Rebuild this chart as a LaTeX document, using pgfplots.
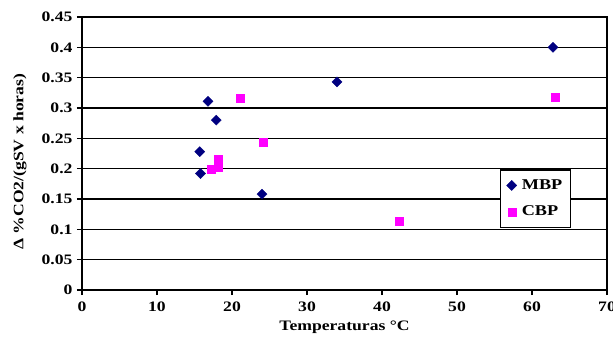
\documentclass[border=0pt]{standalone}
\usepackage{fontspec}
\setmainfont{Liberation Serif}[FakeStretch=1.22]
\usepackage{pgfplots}
\pgfplotsset{compat=1.18}
\definecolor{navyc}{RGB}{0,0,128}
\definecolor{magc}{RGB}{255,0,255}
\begin{document}
\begin{tikzpicture}[x=1bp,y=1bp]
\begin{axis}[
  at={(82bp,60bp)}, anchor=south west,
  scale only axis, width=525bp, height=273bp,
  xmin=0, xmax=70, ymin=0, ymax=0.45,
  xtick={0,10,...,70},
  ytick={0,0.05,0.1,0.15,0.2,0.25,0.3,0.35,0.4,0.45},
  xtick pos=bottom, ytick pos=left,
  /pgf/number format/assume math mode=true,
  /pgf/number format/fixed,
  /pgf/number format/precision=2,
  tick label style={font=\bfseries\fontsize{14.5}{16}\selectfont},
  label style={font=\bfseries\fontsize{14.5}{16}\selectfont},
  xlabel={Temperaturas °C},
  ylabel={Δ \%CO2/(gSV x horas)},
  xlabel style={at={(axis description cs:0.5,0)}, anchor=north, yshift=-27bp},
  ylabel style={at={(axis description cs:0,0.47)}, anchor=south, yshift=52bp},
  tick align=outside,
  major tick length=5bp,
  tick style={black, line width=1.2bp},
  axis line style={line width=1.8bp},
  ymajorgrids,
  grid style={black, line width=1.1bp},
  xticklabel style={yshift=-3bp},
  yticklabel style={xshift=-1bp},
  legend style={at={(0.796,0.443)}, anchor=north west,
    draw=black, line width=1.5bp, fill=white,
    font=\bfseries\fontsize{15}{16}\selectfont,
    inner xsep=6bp, inner ysep=8bp, row sep=11bp, column sep=3bp},
  legend cell align=left,
]
\addplot[only marks, mark=square*, mark size=3.6bp, color=navyc, mark options={rotate=45, line width=0.3bp}]
  coordinates {(62.8,0.400) (34.0,0.343) (16.8,0.311) (17.9,0.280) (15.7,0.228) (15.8,0.192) (24.0,0.158)};
\addlegendentry{MBP}
\addplot[only marks, mark=square*, mark size=4bp, color=magc, mark options={line width=0.3bp}]
  coordinates {(21.1,0.316) (24.2,0.243) (18.1,0.216) (18.1,0.203) (17.2,0.199) (63.1,0.318) (42.3,0.114)};
\addlegendentry{CBP}
\end{axis}
\pgfresetboundingbox
\path (0,0) rectangle (613bp,350bp);
\end{tikzpicture}
\end{document}
